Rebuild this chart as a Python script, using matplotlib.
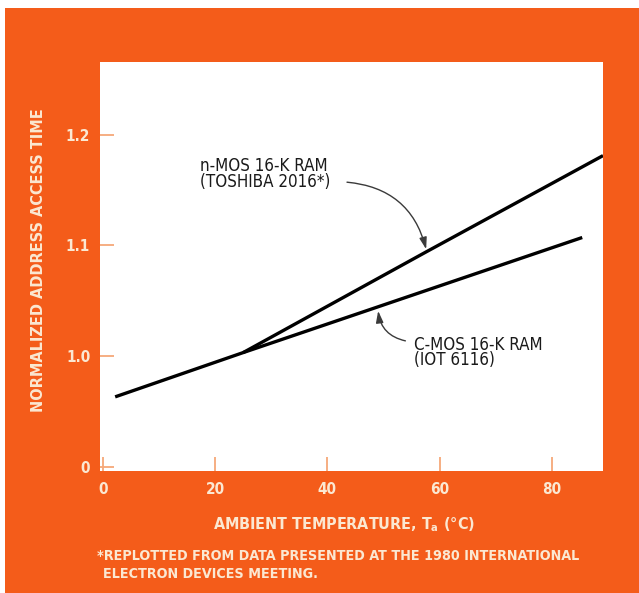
import matplotlib
matplotlib.use("Agg")
import matplotlib.pyplot as plt
from matplotlib.patches import Rectangle

# Temperature (deg C) vs normalized address access time
cmos_temp = [2.2, 25.0, 85.4]
cmos_time = [0.963, 1.003, 1.107]
nmos_temp = [25.0, 57.6, 89.1]
nmos_time = [1.003, 1.094, 1.181]

x_ticks = [0, 20, 40, 60, 80]
x_labels = ["0", "20", "40", "60", "80"]
y_ticks = [0.9, 1.0, 1.1, 1.2]
y_labels = ["0", "1.0", "1.1", "1.2"]

ORANGE = "#f45c1a"
CREAM = "#fbe8d2"
TICK = "#f6a878"

FONT = ["DejaVu Sans"]
STRETCH = "condensed"

W, H = 639, 593
fig = plt.figure(figsize=(W / 100, H / 100), dpi=100)
fig.patch.set_facecolor("white")
fig.add_artist(Rectangle((5 / W, 0), 1 - 5 / W, 1 - 8 / H, transform=fig.transFigure,
                         facecolor=ORANGE, edgecolor="none", zorder=0))

left, right, top, bottom = 100, 603, 62, 471
ax = fig.add_axes([left / W, 1 - bottom / H, (right - left) / W, (bottom - top) / H])
ax.set_facecolor("white")
for s in ax.spines.values():
    s.set_visible(False)

ax.plot(cmos_temp, cmos_time, color="black", lw=2.4, solid_capstyle="butt")
ax.plot(nmos_temp, nmos_time, color="black", lw=2.4, solid_capstyle="butt")

ax.set_xlim(-0.5, 89.1)
ax.set_ylim(0.896, 1.2656)
ax.set_xticks(x_ticks)
ax.set_xticklabels(x_labels)
ax.set_yticks(y_ticks)
ax.set_yticklabels(y_labels)
ax.tick_params(axis="both", direction="in", length=10, width=1.3, color=TICK,
               labelcolor=CREAM, labelsize=11)
ax.tick_params(axis="x", pad=8)
ax.tick_params(axis="y", pad=7)
for lab in ax.get_xticklabels() + ax.get_yticklabels():
    lab.set_fontfamily(FONT)
    lab.set_fontweight("bold")
    lab.set_fontstretch(STRETCH)

ax.set_xlabel("AMBIENT TEMPERATURE, T$_\\mathregular{a}$ (°C)", fontsize=11.5,
              fontweight="bold", color=CREAM, family=FONT, fontstretch=STRETCH)
ax.xaxis.set_label_coords((344 - left) / (right - left), -(515 - bottom) / (bottom - top))
ax.set_ylabel("NORMALIZED ADDRESS ACCESS TIME", fontsize=11.6, fontweight="bold",
              color=CREAM, family=FONT, fontstretch=STRETCH)
ax.yaxis.set_label_coords(-(left - 46) / (right - left), (bottom - 260) / (bottom - top))

ax.text(17.4, 1.1645, "n-MOS 16-K RAM\n(TOSHIBA 2016*)", fontsize=12.2, family=FONT,
        fontstretch=STRETCH, color="#1a1a1a", va="center", ha="left", linespacing=0.82)
ax.text(55.5, 1.0030, "C-MOS 16-K RAM\n(IOT 6116)", fontsize=12.2, family=FONT,
        fontstretch=STRETCH, color="#1a1a1a", va="center", ha="left", linespacing=0.82)

arrow = dict(arrowstyle="-|>,head_length=0.7,head_width=0.22", color="#3a3a3a",
             lw=1.0, shrinkA=0, shrinkB=0)
ax.annotate("", xy=(57.6, 1.0964), xytext=(43.5, 1.157),
            arrowprops=dict(arrow, connectionstyle="arc3,rad=-0.35"))
ax.annotate("", xy=(49.05, 1.0407), xytext=(53.9, 1.0136),
            arrowprops=dict(arrow, connectionstyle="arc3,rad=-0.35"))

fig.text(97 / W, 1 - 556.5 / H, "*REPLOTTED FROM DATA PRESENTED AT THE 1980 INTERNATIONAL",
         fontsize=10.3, fontweight="bold", color=CREAM, family=FONT, fontstretch=STRETCH,
         va="center", ha="left")
fig.text(103 / W, 1 - 574 / H, "ELECTRON DEVICES MEETING.",
         fontsize=10.3, fontweight="bold", color=CREAM, family=FONT, fontstretch=STRETCH,
         va="center", ha="left")

fig.savefig("out.png", dpi=100, facecolor=fig.get_facecolor())
